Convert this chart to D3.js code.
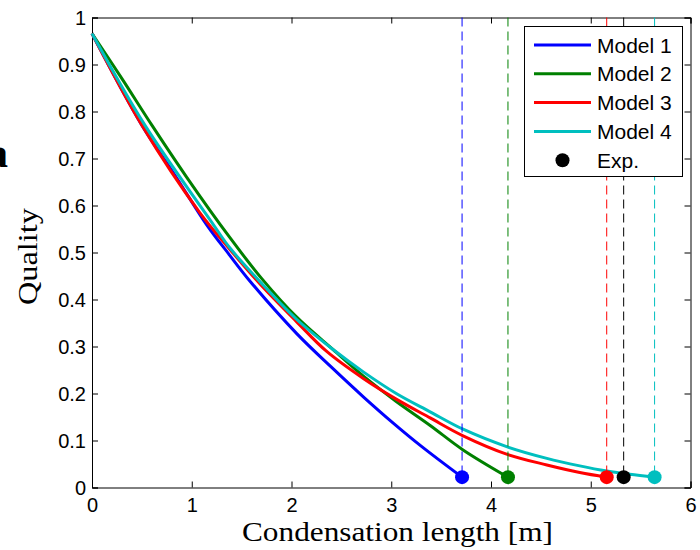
<!DOCTYPE html>
<html>
<head>
<meta charset="utf-8">
<script src="https://cdn.jsdelivr.net/npm/d3@7"></script>
<style>
	body { margin: 0; background: #fff; }
	.tick-label { font-family: "Liberation Sans", Arial, sans-serif; font-size: 20px; fill: #000; }
	.axis-title { font-family: "Liberation Serif", "Times New Roman", serif; font-size: 27px; fill: #000; }
	.legend-label { font-family: "Liberation Sans", Arial, sans-serif; font-size: 21px; fill: #000; }
</style>
</head>
<body>
<div id="chart"></div>
<script>
// curve points: [length (m), quality]
const model1 = [[0, 0.966], [0.5, 0.771], [0.83, 0.665], [1.15, 0.559], [1.381, 0.494], [1.58, 0.44], [2.05, 0.328], [2.4, 0.256], [2.72, 0.193], [3.02, 0.137], [3.3, 0.088], [3.71, 0.022]];
const model2 = [[0, 0.966], [0.3, 0.87], [0.6, 0.771], [0.95, 0.66], [1.381, 0.532], [1.7, 0.445], [2.05, 0.363], [2.42, 0.293], [2.75, 0.232], [3.05, 0.183], [3.39, 0.132], [3.72, 0.08], [4.17, 0.022]];
const model3 = [[0, 0.966], [0.5, 0.771], [1.08, 0.585], [1.381, 0.507], [1.68, 0.434], [2.05, 0.353], [2.35, 0.29], [2.72, 0.232], [3.05, 0.188], [3.39, 0.148], [3.72, 0.11], [4.17, 0.07], [4.56, 0.048], [4.89, 0.032], [5.16, 0.022]];
const model4 = [[0, 0.966], [0.53, 0.771], [1.218, 0.559], [1.381, 0.51], [1.71, 0.432], [2.05, 0.358], [2.42, 0.293], [2.72, 0.246], [3.05, 0.2], [3.39, 0.161], [3.72, 0.124], [4.17, 0.086], [4.56, 0.062], [4.89, 0.046], [5.16, 0.035], [5.39, 0.028], [5.64, 0.022]];

const modelNames = ['Model 1', 'Model 2', 'Model 3', 'Model 4'];
const modelColors = ['#0000ff', '#008000', '#ff0000', '#00bfbf'];
const endLengths = [3.71, 4.17, 5.16, 5.64];
const expLength = 5.33;
const endQuality = 0.022;

const xTicks = [0, 1, 2, 3, 4, 5, 6];
const yTicks = [0, 0.1, 0.2, 0.3, 0.4, 0.5, 0.6, 0.7, 0.8, 0.9, 1];

const width = 700;
const height = 550;
const plot = {left: 92, top: 17.5, right: 690.5, bottom: 487.5};

const svg = d3.select('#chart')
	.append('svg')
	.attr('width', width)
	.attr('height', height);

const x = d3.scaleLinear().domain([0, 6]).range([plot.left, plot.right]);
const y = d3.scaleLinear().domain([0, 1]).range([plot.bottom, plot.top]);

// box axes, ticks pointing inwards on every side
const tickSize = 6;
svg.append('g')
	.attr('transform', `translate(0,${plot.bottom})`)
	.call(d3.axisBottom(x).tickValues(xTicks).tickSize(-tickSize).tickFormat(d3.format('d')))
	.call((g)=>g.selectAll('text').attr('class', 'tick-label').attr('dy', null).attr('y', 24.5));
svg.append('g')
	.attr('transform', `translate(0,${plot.top})`)
	.call(d3.axisTop(x).tickValues(xTicks).tickSize(-tickSize).tickFormat(''));
svg.append('g')
	.attr('transform', `translate(${plot.left},0)`)
	.call(d3.axisLeft(y).tickValues(yTicks).tickSize(-tickSize).tickFormat((d)=>d3.format('')(+d.toFixed(1))))
	.call((g)=>g.selectAll('text').attr('class', 'tick-label').attr('x', -6).attr('dy', '0.35em'));
svg.append('g')
	.attr('transform', `translate(${plot.right},0)`)
	.call(d3.axisRight(y).tickValues(yTicks).tickSize(-tickSize).tickFormat(''));

svg.selectAll('.domain').attr('stroke', '#000').attr('stroke-width', 1);
svg.selectAll('.tick line').attr('stroke', '#000');

// curves
const line = d3.line()
	.x((d)=>x(d[0]))
	.y((d)=>y(d[1]))
	.curve(d3.curveCatmullRom.alpha(0.5));

const models = [model1, model2, model3, model4];

svg.append('g')
	.selectAll('path')
	.data(models)
	.enter()
	.append('path')
	.attr('d', (d)=>line(d))
	.attr('fill', 'none')
	.attr('stroke', (d, i)=>modelColors[i])
	.attr('stroke-width', 3)
	.attr('stroke-linejoin', 'round');

// dashed markers of the end of condensation
const ends = endLengths.map((len, i)=>({len: len, color: modelColors[i]}));
ends.push({len: expLength, color: '#000'});

svg.append('g')
	.selectAll('line')
	.data(ends)
	.enter()
	.append('line')
	.attr('x1', (d)=>x(d.len))
	.attr('x2', (d)=>x(d.len))
	.attr('y1', plot.top)
	.attr('y2', y(endQuality))
	.attr('stroke', (d)=>d.color)
	.attr('stroke-width', 1)
	.attr('stroke-dasharray', '9,5');

svg.append('g')
	.selectAll('circle')
	.data(ends)
	.enter()
	.append('circle')
	.attr('cx', (d)=>x(d.len))
	.attr('cy', y(endQuality))
	.attr('r', 7)
	.attr('fill', (d)=>d.color);

// legend
const legend = svg.append('g');
legend.append('rect')
	.attr('x', 524.5)
	.attr('y', 26.5)
	.attr('width', 158)
	.attr('height', 150)
	.attr('fill', '#fff')
	.attr('stroke', '#000')
	.attr('stroke-width', 1);

const legendRows = legend.selectAll('g.row')
	.data(modelNames.concat(['Exp.']))
	.enter()
	.append('g')
	.attr('class', 'row')
	.attr('transform', (d, i)=>`translate(0,${45 + i * 28.8})`);

legendRows.filter((d, i)=>i < 4)
	.append('line')
	.attr('x1', 534)
	.attr('x2', 591)
	.attr('stroke', (d, i)=>modelColors[i])
	.attr('stroke-width', 3);

legendRows.filter((d, i)=>i == 4)
	.append('circle')
	.attr('cx', 562.5)
	.attr('r', 7)
	.attr('fill', '#000');

legendRows.append('text')
	.attr('class', 'legend-label')
	.attr('x', 597)
	.attr('dy', '0.36em')
	.text((d)=>d);

// axis titles
svg.append('text')
	.attr('class', 'axis-title')
	.attr('x', 242)
	.attr('y', 541)
	.attr('textLength', 311)
	.attr('lengthAdjust', 'spacingAndGlyphs')
	.text('Condensation length [m]');

svg.append('text')
	.attr('class', 'axis-title')
	.attr('transform', 'translate(37,305) rotate(-90)')
	.attr('textLength', 97)
	.attr('lengthAdjust', 'spacingAndGlyphs')
	.text('Quality');

// panel letter, cut at the left edge
svg.append('text')
	.attr('x', 8)
	.attr('y', 167)
	.attr('text-anchor', 'end')
	.attr('font-family', '"Liberation Serif", "Times New Roman", serif')
	.attr('font-weight', 'bold')
	.attr('font-size', 42)
	.text('a');
</script>
</body>
</html>
